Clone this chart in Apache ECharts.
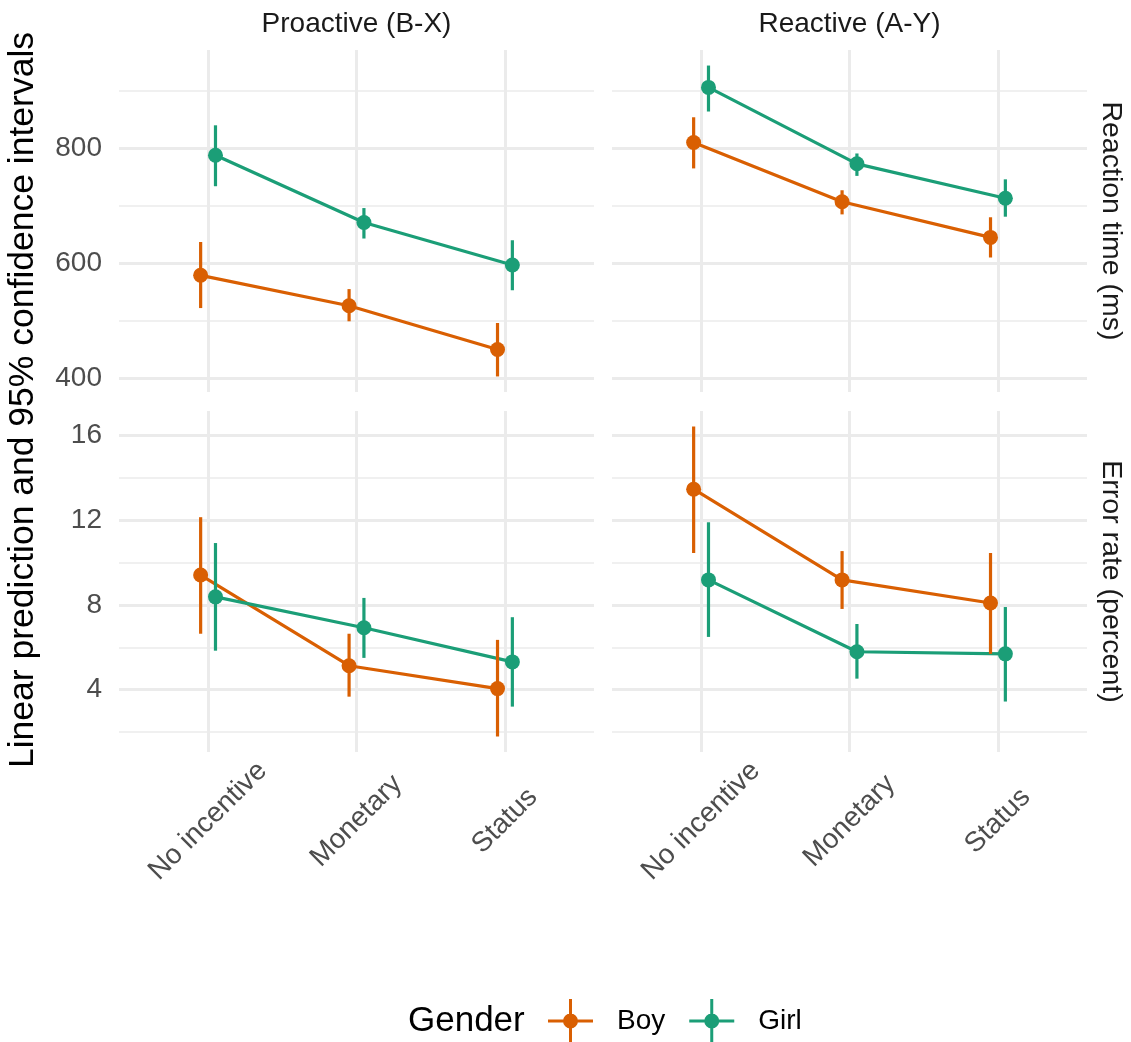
<!DOCTYPE html>
<html><head><meta charset="utf-8">
<script src="https://cdn.jsdelivr.net/npm/echarts@6/dist/echarts.min.js"></script>
<style>html,body{margin:0;padding:0;background:#fff}#c{width:1131px;height:1042px}</style>
</head><body><div id="c"></div>
<script>
// ---------- data ----------
const categories = ['No incentive', 'Monetary', 'Status'];
const facetCols = ['Proactive (B-X)', 'Reactive (A-Y)'];
const facetRows = ['Reaction time (ms)', 'Error rate (percent)'];
const genders = ['Boy', 'Girl'];
const rtTicks = [400, 600, 800];
const rtMinorTicks = [500, 700, 900];
const erTicks = [4, 8, 12, 16];
const erMinorTicks = [2, 6, 10, 14];

// Reaction time, Proactive
const rtProBoy = [579, 526, 450];
const rtProBoyLo = [522, 499, 403];
const rtProBoyHi = [637, 555, 496];
const rtProGirl = [788, 671, 597];
const rtProGirlLo = [734, 643, 553];
const rtProGirlHi = [840, 696, 640];
// Reaction time, Reactive
const rtReaBoy = [810, 707, 645];
const rtReaBoyLo = [765, 685, 610];
const rtReaBoyHi = [854, 727, 680];
const rtReaGirl = [906, 773, 713];
const rtReaGirlLo = [864, 752, 681];
const rtReaGirlHi = [944, 791, 746];
// Error rate, Proactive
const erProBoy = [9.41, 5.13, 4.05];
const erProBoyLo = [6.64, 3.67, 1.79];
const erProBoyHi = [12.14, 6.64, 6.35];
const erProGirl = [8.38, 6.92, 5.31];
const erProGirlLo = [5.84, 5.50, 3.20];
const erProGirlHi = [10.92, 8.33, 7.42];
// Error rate, Reactive
const erReaBoy = [13.46, 9.18, 8.09];
const erReaBoyLo = [10.45, 7.81, 5.69];
const erReaBoyHi = [16.42, 10.54, 10.45];
const erReaGirl = [9.18, 5.79, 5.69];
const erReaGirlLo = [6.49, 4.52, 3.44];
const erReaGirlHi = [11.90, 7.10, 7.90];

// ---------- layout / style ----------
const FONT = '"Liberation Sans", Arial, Helvetica, sans-serif';
const COLORS = ['#D95F02', '#1B9E77'];
const GRID = '#ebebeb';
const DODGE = 0.05;

const panels = [
  { row: 0, col: 0, g: [[rtProBoy, rtProBoyLo, rtProBoyHi], [rtProGirl, rtProGirlLo, rtProGirlHi]] },
  { row: 0, col: 1, g: [[rtReaBoy, rtReaBoyLo, rtReaBoyHi], [rtReaGirl, rtReaGirlLo, rtReaGirlHi]] },
  { row: 1, col: 0, g: [[erProBoy, erProBoyLo, erProBoyHi], [erProGirl, erProGirlLo, erProGirlHi]] },
  { row: 1, col: 1, g: [[erReaBoy, erReaBoyLo, erReaBoyHi], [erReaGirl, erReaGirlLo, erReaGirlHi]] }
];
const gridRects = [
  { left: 119, top: 50, width: 475, height: 342 },
  { left: 612, top: 50, width: 475, height: 342 },
  { left: 119, top: 411, width: 475, height: 341 },
  { left: 612, top: 411, width: 475, height: 341 }
];

// row ranges (ggplot 5% expansion)
function rowRange(row) {
  let lo = Infinity, hi = -Infinity;
  panels.filter(p => p.row === row).forEach(p => p.g.forEach(s => {
    lo = Math.min(lo, ...s[1]); hi = Math.max(hi, ...s[2]);
  }));
  const r = hi - lo;
  return [lo - 0.05 * r, hi + 0.05 * r];
}
const ranges = [rowRange(0), rowRange(1)];

const grids = gridRects.map(r => Object.assign({ containLabel: false, outerBoundsMode: 'none' }, r));

const xAxes = panels.map((p, i) => ({
  gridIndex: i, type: 'value', min: 0.4, max: 3.6,
  axisLine: { show: false },
  axisTick: { show: false, customValues: [1, 2, 3] },
  splitLine: { show: true, lineStyle: { color: GRID, width: 3 } },
  axisLabel: p.row === 1 ? {
    show: true, customValues: [1, 2, 3], rotate: 45, align: 'center', verticalAlign: 'middle',
    margin: 69, hideOverlap: false,
    color: '#4d4d4d', fontSize: 28, fontFamily: FONT,
    formatter: v => categories[Math.round(v) - 1]
  } : { show: false }
}));

const yAxes = [];
panels.forEach((p, i) => {
  const [mn, mx] = ranges[p.row];
  const major = p.row === 0 ? rtTicks : erTicks;
  const minor = p.row === 0 ? rtMinorTicks : erMinorTicks;
  yAxes.push({
    gridIndex: i, type: 'value', min: mn, max: mx, position: 'left',
    axisLine: { show: false },
    axisTick: { show: false, customValues: major },
    axisLabel: { show: p.col === 0, customValues: major, margin: 17, color: '#4d4d4d', fontSize: 28, fontFamily: FONT },
    splitLine: { show: true, lineStyle: { color: GRID, width: 3 } }
  });
  yAxes.push({
    gridIndex: i, type: 'value', min: mn, max: mx, position: 'right',
    axisLine: { show: false },
    axisTick: { show: false, customValues: minor },
    axisLabel: { show: false },
    splitLine: { show: true, lineStyle: { color: GRID, width: 1.5 } }
  });
});

const scatterS = [], lineS = [], barS = [];
panels.forEach((p, i) => {
  p.g.forEach((s, gi) => {
    const off = gi === 0 ? -DODGE : DODGE;
    const c = COLORS[gi];
    const pts = categories.map((_, k) => [k + 1 + off, s[0][k]]);
    scatterS.push({
      type: 'scatter', name: genders[gi], xAxisIndex: i, yAxisIndex: 2 * i,
      data: pts, symbol: 'circle', symbolSize: 15, z: 4, silent: true,
      itemStyle: { color: c, opacity: 1 }, emphasis: { disabled: true }
    });
    lineS.push({
      type: 'line', name: genders[gi], xAxisIndex: i, yAxisIndex: 2 * i,
      data: pts, symbol: 'none', z: 2, silent: true,
      itemStyle: { color: c }, lineStyle: { color: c, width: 3.2 }, emphasis: { disabled: true }
    });
    barS.push({
      type: 'custom', name: genders[gi], xAxisIndex: i, yAxisIndex: 2 * i, z: 3, silent: true,
      data: categories.map((_, k) => [k + 1 + off, s[1][k], s[2][k]]),
      encode: { x: 0, y: [1, 2] },
      itemStyle: { color: c },
      renderItem: (params, api) => {
        const a = api.coord([api.value(0), api.value(1)]);
        const b = api.coord([api.value(0), api.value(2)]);
        return { type: 'line', shape: { x1: a[0], y1: a[1], x2: b[0], y2: b[1] },
                 style: { stroke: c, lineWidth: 3.2 } };
      }
    });
  });
});

const ICON = 'path://M0,20.5L45,20.5L45,23.5L0,23.5Z M21,0L24,0L24,44L21,44Z M30,22A7.5,7.5,0,1,1,15,22A7.5,7.5,0,1,1,30,22Z';

function txt(text, x, y, size, fill, rot, align) {
  return {
    type: 'text', x: x, y: y, rotation: rot || 0, silent: true,
    style: { text: text, fontSize: size, fontFamily: FONT, fill: fill,
             align: align || 'center', verticalAlign: 'middle',
             textAlign: align || 'center', textVerticalAlign: 'middle' }
  };
}

const option = {
  animation: false,
  backgroundColor: '#ffffff',
  grid: grids, xAxis: xAxes, yAxis: yAxes,
  legend: {
    left: 548, top: 999, padding: 0, orient: 'horizontal', itemWidth: 45, itemHeight: 44, itemGap: 24,
    selectedMode: false,
    data: genders.map(g => ({ name: g, icon: ICON })),
    textStyle: { fontSize: 28, fontFamily: FONT, color: '#000', padding: [0, 0, 0, 19] }
  },
  graphic: [
    txt(facetCols[0], 356.5, 24, 28, '#1a1a1a'),
    txt(facetCols[1], 849.5, 24, 28, '#1a1a1a'),
    txt(facetRows[0], 1111, 221, 28.5, '#1a1a1a', -Math.PI / 2),
    txt(facetRows[1], 1111, 581.5, 28.5, '#1a1a1a', -Math.PI / 2),
    txt('Linear prediction and 95% confidence intervals', 23, 400, 35.5, '#000', Math.PI / 2),
    txt('Gender', 408, 1021, 35, '#000', 0, 'left')
  ],
  series: scatterS.concat(lineS, barS)
};
const chart = echarts.init(document.getElementById('c'), null, { renderer: 'canvas' });
chart.setOption(option);
</script></body></html>
